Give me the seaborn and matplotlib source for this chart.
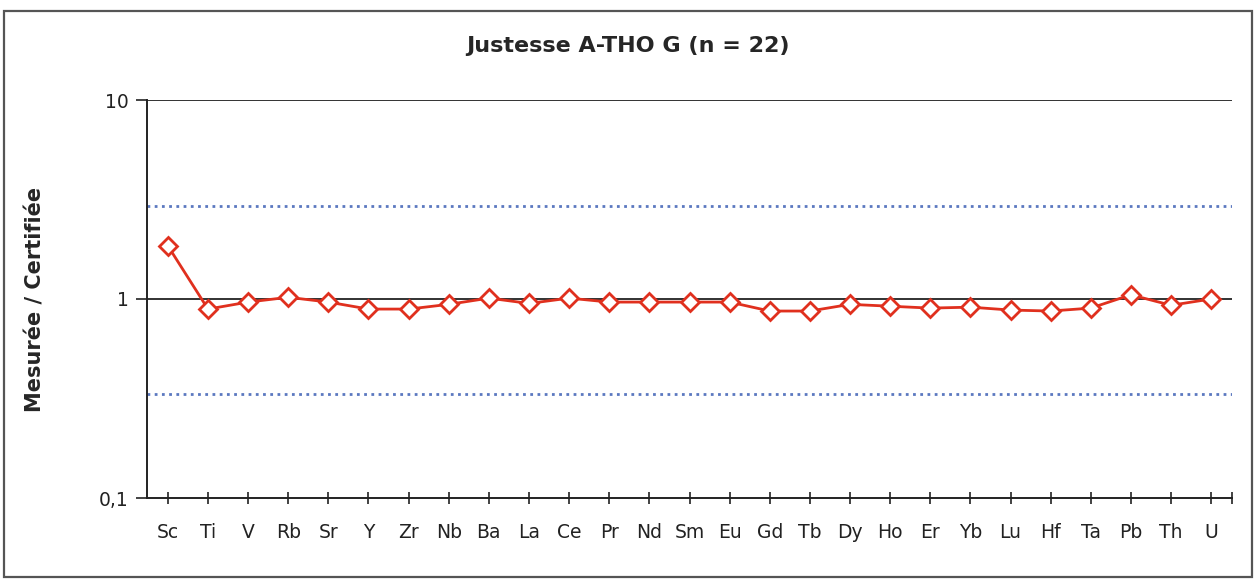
import matplotlib
matplotlib.use("Agg")
import matplotlib.pyplot as plt
import matplotlib.patches as mpatches
import seaborn as sns
import pandas as pd

elements = ["Sc", "Ti", "V", "Rb", "Sr", "Y", "Zr", "Nb", "Ba", "La", "Ce", "Pr", "Nd",
            "Sm", "Eu", "Gd", "Tb", "Dy", "Ho", "Er", "Yb", "Lu", "Hf", "Ta", "Pb", "Th", "U"]
ratio = [1.85, 0.89, 0.965, 1.02, 0.965, 0.89, 0.89, 0.94, 1.01, 0.95, 1.01, 0.965, 0.965,
         0.965, 0.965, 0.87, 0.87, 0.94, 0.92, 0.90, 0.91, 0.88, 0.87, 0.90, 1.05, 0.93, 1.0]
upper_limit = 2.95
lower_limit = 0.335
y_ticks = [0.1, 1, 10]
y_tick_labels = ["0,1", "1", "10"]

df = pd.DataFrame({"element": elements, "ratio": ratio, "pos": range(len(elements))})

sns.set_theme(style="white")
plt.rcParams["font.family"] = ["DejaVu Sans"]

fig = plt.figure(figsize=(12.56, 5.79), dpi=100)
ax = fig.add_axes([147 / 1256, 1 - 498 / 579, (1232 - 147) / 1256, (498 - 100) / 579])

# outer chart frame
fig.patches.append(mpatches.Rectangle((4 / 1256, 1 - 577 / 579), 1248 / 1256, 566 / 579,
                                      transform=fig.transFigure, fill=False,
                                      edgecolor="#555555", linewidth=1.6, zorder=0))

ax.set_yscale("log")
ax.set_ylim(0.1, 10)
ax.set_xlim(-0.52, len(elements) - 0.48)

# reference lines at 1 and 10
for yv in (1, 10):
    ax.axhline(yv, color="#222222", linewidth=1.3, zorder=1)

# tolerance bounds
ax.axhline(upper_limit, color="#5b78c0", linewidth=2.0, linestyle=(0, (1, 1.6)), zorder=1)
ax.axhline(lower_limit, color="#5b78c0", linewidth=2.0, linestyle=(0, (1, 1.6)), zorder=1)

sns.lineplot(data=df, x="pos", y="ratio", ax=ax, color="#e0301e", linewidth=2.0,
             marker="D", markersize=9, markerfacecolor="white",
             markeredgecolor="#e0301e", markeredgewidth=2.0, zorder=3)

ax.set_xticks(df["pos"])
ax.set_xticklabels(elements, fontsize=13.5, color="#222222")
ax.set_xticks([len(elements) - 0.48], minor=True)
ax.tick_params(axis="x", which="both", direction="inout", length=8, width=1.2,
               color="#222222", bottom=True, pad=14)
ax.set_yticks(y_ticks)
ax.set_yticklabels(y_tick_labels, fontsize=13.5, color="#222222")
ax.yaxis.set_minor_locator(matplotlib.ticker.NullLocator())
ax.tick_params(axis="y", which="major", direction="out", length=8, width=1.2,
               color="#222222", left=True, pad=5)

for side in ("top", "right"):
    ax.spines[side].set_visible(False)
for side in ("left", "bottom"):
    ax.spines[side].set_color("#222222")
    ax.spines[side].set_linewidth(1.4)

ax.set_xlabel("")
ax.set_ylabel("Mesurée / Certifiée", fontsize=15, fontweight="bold")
ax.yaxis.set_label_coords(-0.094, 0.5)
fig.text(0.5, 1 - 46 / 579, "Justesse A-THO G (n = 22)", ha="center", va="center",
         fontsize=16, fontweight="bold")

fig.savefig("out.png", dpi=100, facecolor="white")
